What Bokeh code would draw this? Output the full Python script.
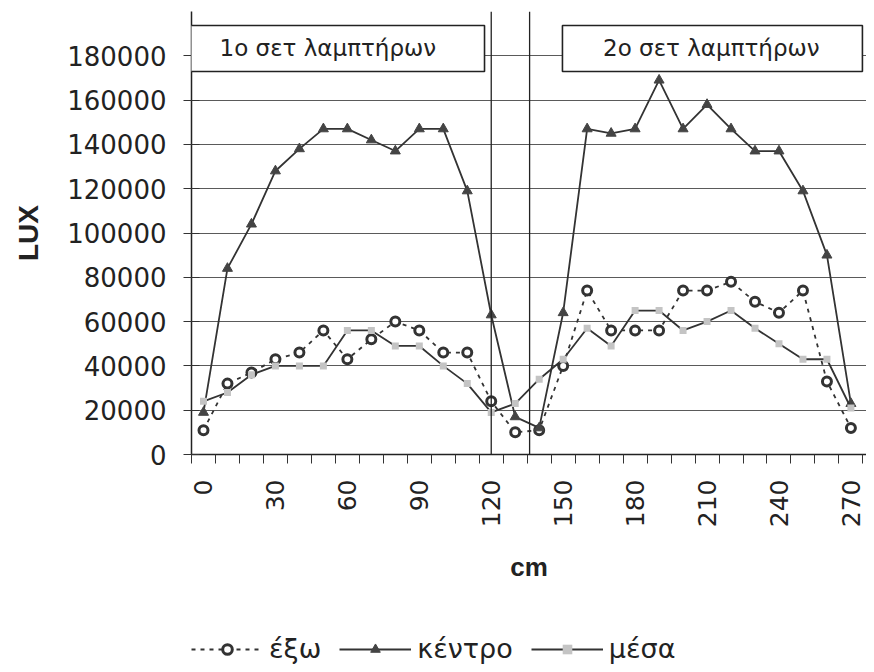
from bokeh.plotting import figure
from bokeh.layouts import column
from bokeh.models import (FixedTicker, NumeralTickFormatter, Legend, LegendItem,
                          Span, BoxAnnotation, Label, Range1d)
from bokeh.embed import file_html
from bokeh.resources import INLINE
import math

# ---- data ----
cm = [0, 10, 20, 30, 40, 50, 60, 70, 80, 90, 100, 110, 120, 130,
      140, 150, 160, 170, 180, 190, 200, 210, 220, 230, 240, 250, 260, 270]
exo = [11000, 32000, 37000, 43000, 46000, 56000, 43000, 52000, 60000, 56000,
       46000, 46000, 24000, 10000, 11000, 40000, 74000, 56000, 56000, 56000,
       74000, 74000, 78000, 69000, 64000, 74000, 33000, 12000]
kentro = [19000, 84000, 104000, 128000, 138000, 147000, 147000, 142000, 137000, 147000,
          147000, 119000, 63000, 17000, 12000, 64000, 147000, 145000, 147000, 169000,
          147000, 158000, 147000, 137000, 137000, 119000, 90000, 23000]
mesa = [24000, 28000, 36000, 40000, 40000, 40000, 56000, 56000, 49000, 49000,
        40000, 32000, 19000, 23000, 34000, 43000, 57000, 49000, 65000, 65000,
        56000, 60000, 65000, 57000, 50000, 43000, 43000, 21000]
x_tick_labels = [0, 30, 60, 90, 120, 150, 180, 210, 240, 270]
y_ticks = [0, 20000, 40000, 60000, 80000, 100000, 120000, 140000, 160000, 180000]
separators = [120, 136]
series_names = ["έξω", "κέντρο", "μέσα"]
set_titles = ["1ο σετ λαμπτήρων", "2ο σετ λαμπτήρων"]

FONT = "DejaVu Sans"
INK = "#333333"

p = figure(width=866, height=620, output_backend="svg", toolbar_location=None,
           x_range=Range1d(-5, 276.5), y_range=Range1d(0, 200000),
           min_border_left=191, min_border_right=0, min_border_top=11,
           min_border_bottom=166, outline_line_color=None,
           background_fill_color="white", border_fill_color="white")

# axes
p.xaxis.ticker = FixedTicker(ticks=x_tick_labels,
                             minor_ticks=[c - 5 for c in cm] + [cm[-1] + 5])
p.xaxis.major_tick_out = 0
p.xaxis.major_tick_in = 0
p.xaxis.minor_tick_out = 9
p.xaxis.minor_tick_in = 0
p.xaxis.minor_tick_line_color = INK
p.xaxis.major_label_orientation = math.pi / 2
p.xaxis.major_label_text_font = FONT
p.xaxis.major_label_text_font_size = "25px"
p.xaxis.major_label_text_color = "#222222"
p.xaxis.major_label_standoff = 16
p.xaxis.axis_label = "cm"
p.xaxis.axis_label_text_font = "Liberation Sans"
p.xaxis.axis_label_text_font_style = "bold"
p.xaxis.axis_label_text_font_size = "26px"
p.xaxis.axis_label_text_color = "#222222"
p.xaxis.axis_label_standoff = 22
p.xaxis.axis_line_color = "#222222"
p.xaxis.axis_line_width = 1.5

p.yaxis.ticker = FixedTicker(ticks=y_ticks)
p.yaxis.formatter = NumeralTickFormatter(format="0")
p.yaxis.major_tick_out = 8
p.yaxis.major_tick_in = 8
p.yaxis.minor_tick_out = 0
p.yaxis.minor_tick_in = 0
p.yaxis.major_tick_line_color = INK
p.yaxis.major_label_text_font = FONT
p.yaxis.major_label_text_font_size = "26px"
p.yaxis.major_label_text_color = "#222222"
p.yaxis.major_label_standoff = 17
p.yaxis.axis_label = "LUX"
p.yaxis.axis_label_text_font = "Liberation Sans"
p.yaxis.axis_label_text_font_style = "bold"
p.yaxis.axis_label_text_font_size = "28px"
p.yaxis.axis_label_text_color = "#222222"
p.yaxis.axis_label_standoff = 20
p.yaxis.axis_line_color = "#222222"
p.yaxis.axis_line_width = 1.5

p.xgrid.grid_line_color = None
p.ygrid.grid_line_color = "#5a5a5a"
p.ygrid.grid_line_width = 1

# separators
for s in separators:
    p.add_layout(Span(location=s, dimension="height", line_color="#222222",
                      line_width=1.3))

styles = [
    dict(line=dict(line_color=INK, line_width=1.8, line_dash="4 5"),
         mark=dict(marker="circle", size=9, fill_color="white", line_color=INK, line_width=3)),
    dict(line=dict(line_color=INK, line_width=1.8),
         mark=dict(marker="triangle", size=10, fill_color="#444444", line_color="#444444")),
    dict(line=dict(line_color=INK, line_width=1.8),
         mark=dict(marker="square", size=7, fill_color="#c4c4c4", line_color=None)),
]
series = [exo, kentro, mesa]

for vals, st in zip(series, styles):
    p.line(cm, vals, **st["line"])
    p.scatter(cm, vals, **st["mark"])

# set title boxes
box_specs = [(-5.8, 117.2), (149.7, 274.8)]
for (l, r) in box_specs:
    p.add_layout(BoxAnnotation(left=l, right=r, bottom=172900, top=193700,
                               fill_color="white", fill_alpha=1,
                               line_color="#222222", line_width=1.6, line_alpha=1))
p.add_layout(Label(x=6.7, y=183300, text=set_titles[0], text_font=FONT,
                   text_font_size="23px", text_baseline="middle", text_align="left",
                   text_color="#222222"))
p.add_layout(Label(x=211.8, y=183300, text=set_titles[1], text_font=FONT,
                   text_font_size="23px", text_baseline="middle", text_align="center",
                   text_color="#222222"))

# ---- legend strip below the chart (its renderers lie outside its ranges) ----
lg = figure(width=866, height=44, output_backend="svg", toolbar_location=None,
            x_range=Range1d(-1000, -999), y_range=Range1d(-1000, -999),
            min_border_left=0, min_border_right=0, min_border_top=0,
            min_border_bottom=0, outline_line_color=None)
lg.xaxis.visible = False
lg.yaxis.visible = False
lg.xgrid.visible = False
lg.ygrid.visible = False
items = []
for name, vals, st in zip(series_names, series, styles):
    rl = lg.line(cm, vals, **st["line"])
    rm = lg.scatter(cm, vals, **st["mark"])
    items.append(LegendItem(label=name, renderers=[rl, rm]))
legend = Legend(items=items, orientation="horizontal", location=(0, 0),
                glyph_width=72, glyph_height=24,
                label_text_font=FONT, label_text_font_size="27px",
                label_text_color="#222222", label_standoff=6, spacing=18,
                padding=0, margin=0, border_line_color=None,
                background_fill_alpha=0)
lg.add_layout(legend, "center")

layout = column(p, lg, spacing=0)
open("out.html", "w").write(file_html(layout, INLINE))
